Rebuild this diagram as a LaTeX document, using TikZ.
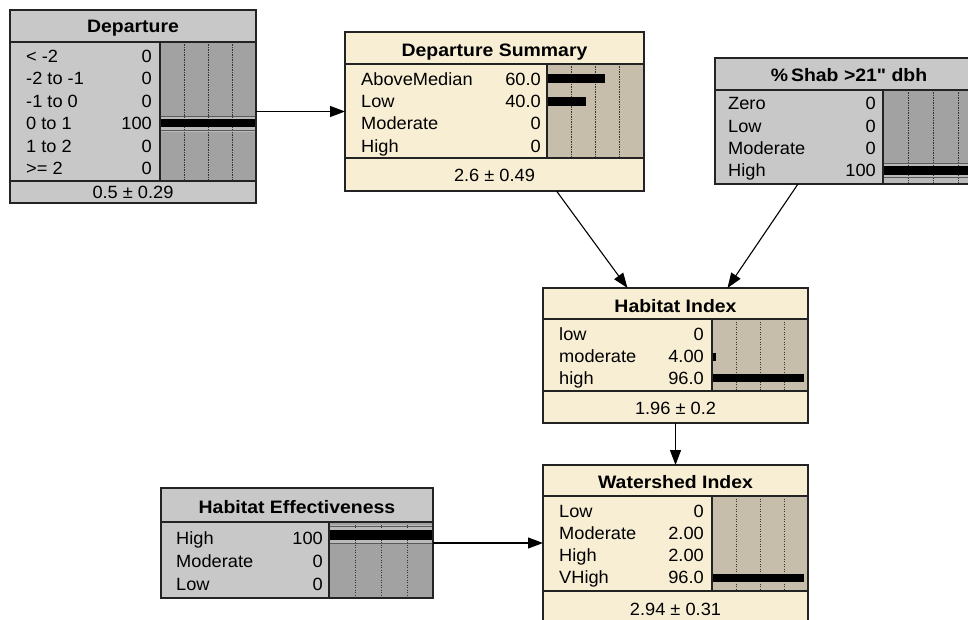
\documentclass[tikz,border=0pt]{standalone}
\usepackage{fontspec}
\newfontfamily\netfont{Liberation Sans}[FakeStretch=1.03]
\newfontfamily\netheadfont{Liberation Sans}[FakeStretch=1.08]
\usetikzlibrary{arrows.meta,calc}

\definecolor{graybox}{RGB}{200,200,200}
\definecolor{graybar}{RGB}{162,162,162}
\definecolor{grayband}{RGB}{186,186,186}
\definecolor{grayedge}{RGB}{90,90,90}
\definecolor{beigebox}{RGB}{248,238,212}
\definecolor{beigebar}{RGB}{198,190,170}
\definecolor{frameline}{RGB}{35,35,35}

\tikzset{
  boxframe/.style={draw=frameline, line width=1.3pt, inner sep=0pt, outer sep=0pt, anchor=north west},
  sepline/.style={draw=frameline, line width=1.3pt},
  gridline/.style={draw=black!80, line width=0.8pt, dash pattern=on 1.2pt off 1.3pt},
  bandline/.style={draw=grayedge, line width=1pt},
  rowlabel/.style={anchor=base west, inner sep=0pt, font=\netfont\fontsize{17.7}{19}\selectfont},
  rowvalue/.style={anchor=base east, inner sep=0pt, font=\netfont\fontsize{17.7}{19}\selectfont},
  nodetitle/.style={anchor=base, inner sep=0pt, font=\netheadfont\bfseries\fontsize{18}{19}\selectfont},
  nodefooter/.style={anchor=base, inner sep=0pt, font=\netfont\fontsize{17.7}{19}\selectfont},
  link/.style={draw=black, line width=1.1pt, -{Triangle[length=15pt,width=11pt]}},
}

\begin{document}
\begin{tikzpicture}[x=1pt,y=-1pt]
\useasboundingbox (0,0) rectangle (968,620);
\clip (0,0) rectangle (968,620);
\fill[white] (0,0) rectangle (968,620);

% ---------- Departure ----------
\node[boxframe, fill=graybox, minimum width=246pt, minimum height=193pt] (dep) at (10,10) {};
\fill[graybar] (160,42) rectangle (256,181);
\fill[grayband] (160,117) rectangle (256,132);
\foreach \f in {24,48,72} \draw[gridline] ({160+\f},42) -- ({160+\f},181);
\draw[bandline] (160,117) -- (256,117) (160,131) -- (256,131);
\fill[black] (160,119) rectangle (256,127);
\draw[sepline] (10,42) -- (256,42) (10,181) -- (256,181) (160,42) -- (160,181);
\draw[sepline] (dep.north west) rectangle (dep.south east);
\node[nodetitle] (dep-t) at (133,33) {Departure};
\foreach \lab/\v [count=\i] in {{< -2}/0, {-2 to -1}/0, {-1 to 0}/0, {0 to 1}/100, {1 to 2}/0, {>= 2}/0} {
  \node[rowlabel] (dep-l\i) at (26,{62.5+22.4*(\i-1)}) {\lab};
  \node[rowvalue] (dep-v\i) at (152,{62.5+22.4*(\i-1)}) {\v};
}
\node[nodefooter] (dep-f) at (133,198.5) {0.5 ± 0.29};

% ---------- Departure Summary ----------
\node[boxframe, fill=beigebox, minimum width=299pt, minimum height=159pt] (sum) at (345,32) {};
\fill[beigebar] (547,64) rectangle (644,158);
\foreach \f in {24.25,48.5,72.75} \draw[gridline] ({547+\f},64) -- ({547+\f},158);
\fill[black] (547,74) rectangle (605,83);
\fill[black] (547,97) rectangle (586,106);
\draw[sepline] (345,64) -- (644,64) (345,158) -- (644,158) (547,64) -- (547,158);
\draw[sepline] (sum.north west) rectangle (sum.south east);
\node[nodetitle] (sum-t) at (494.5,57) {Departure Summary};
\foreach \lab/\v [count=\i] in {AboveMedian/60.0, Low/40.0, Moderate/0, High/0} {
  \node[rowlabel] (sum-l\i) at (361,{85.3+22.3*(\i-1)}) {\lab};
  \node[rowvalue] (sum-v\i) at (541,{85.3+22.3*(\i-1)}) {\v};
}
\node[nodefooter] (sum-f) at (494.5,182) {2.6 ± 0.49};

% ---------- % Shab >21" dbh ----------
\node[boxframe, fill=graybox, minimum width=268pt, minimum height=126pt] (shab) at (715,58) {};
\fill[graybar] (883,90) rectangle (983,184);
\fill[grayband] (883,164) rectangle (983,184);
\foreach \f in {25,50,75} \draw[gridline] ({883+\f},90) -- ({883+\f},184);
\draw[bandline] (883,164) -- (983,164) (883,178) -- (983,178);
\fill[black] (883,166) rectangle (983,175);
\draw[sepline] (715,90) -- (983,90) (883,90) -- (883,184);
\draw[sepline] (shab.north west) rectangle (shab.south east);
\node[nodetitle] (shab-t) at (849,82) {\%\,Shab >21" dbh};
\foreach \lab/\v [count=\i] in {Zero/0, Low/0, Moderate/0, High/100} {
  \node[rowlabel] (shab-l\i) at (728,{110+22.3*(\i-1)}) {\lab};
  \node[rowvalue] (shab-v\i) at (876,{110+22.3*(\i-1)}) {\v};
}

% ---------- Habitat Index ----------
\node[boxframe, fill=beigebox, minimum width=265pt, minimum height=135pt] (hab) at (543,288) {};
\fill[beigebar] (712,319) rectangle (808,391);
\foreach \f in {24,48,72} \draw[gridline] ({712+\f},319) -- ({712+\f},391);
\fill[black] (712,353) rectangle (716,361);
\fill[black] (712,374) rectangle (804,382);
\draw[sepline] (543,319) -- (808,319) (543,391) -- (808,391) (712,319) -- (712,391);
\draw[sepline] (hab.north west) rectangle (hab.south east);
\node[nodetitle] (hab-t) at (675.5,312) {Habitat Index};
\foreach \lab/\v [count=\i] in {low/0, moderate/4.00, high/96.0} {
  \node[rowlabel] (hab-l\i) at (559,{340+22*(\i-1)}) {\lab};
  \node[rowvalue] (hab-v\i) at (704,{340+22*(\i-1)}) {\v};
}
\node[nodefooter] (hab-f) at (675.5,414) {1.96 ± 0.2};

% ---------- Watershed Index ----------
\node[boxframe, fill=beigebox, minimum width=265pt, minimum height=160pt] (ws) at (543,465) {};
\fill[beigebar] (712,496) rectangle (808,591);
\foreach \f in {24,48,72} \draw[gridline] ({712+\f},496) -- ({712+\f},591);
\fill[black] (712,574) rectangle (804,582);
\draw[sepline] (543,496) -- (808,496) (543,591) -- (808,591) (712,496) -- (712,591);
\draw[sepline] (ws.north west) rectangle (ws.south east);
\node[nodetitle] (ws-t) at (675.5,488) {Watershed Index};
\foreach \lab/\v [count=\i] in {Low/0, Moderate/2.00, High/2.00, VHigh/96.0} {
  \node[rowlabel] (ws-l\i) at (559,{517+22.3*(\i-1)}) {\lab};
  \node[rowvalue] (ws-v\i) at (704,{517+22.3*(\i-1)}) {\v};
}
\node[nodefooter] (ws-f) at (675.5,615) {2.94 ± 0.31};

% ---------- Habitat Effectiveness ----------
\node[boxframe, fill=graybox, minimum width=272pt, minimum height=110pt] (eff) at (161,488) {};
\fill[graybar] (329,522) rectangle (433,598);
\fill[grayband] (329,525) rectangle (433,544);
\foreach \f in {26,52,78} \draw[gridline] ({329+\f},522) -- ({329+\f},598);
\draw[bandline] (329,526) -- (433,526) (329,543) -- (433,543);
\fill[black] (329,530) rectangle (433,540);
\draw[sepline] (161,522) -- (433,522) (329,522) -- (329,598);
\draw[sepline] (eff.north west) rectangle (eff.south east);
\node[nodetitle] (eff-t) at (297,513) {Habitat Effectiveness};
\foreach \lab/\v [count=\i] in {High/100, Moderate/0, Low/0} {
  \node[rowlabel] (eff-l\i) at (176,{544+23*(\i-1)}) {\lab};
  \node[rowvalue] (eff-v\i) at (323,{544+23*(\i-1)}) {\v};
}

% ---------- links ----------
\draw[link] (dep.east |- sum.west) -- (sum.west);
\draw[link] ($(sum.south)+(62,0)$) -- ($(hab.north)+(-48,0)$);
\draw[link] ($(shab.south west)+(83,0)$) -- ($(hab.north)+(52,0)$);
\draw[link] (hab.south) -- (ws.north);
\draw[link] (eff.east) -- (eff.east -| ws.west);
\end{tikzpicture}
\end{document}
